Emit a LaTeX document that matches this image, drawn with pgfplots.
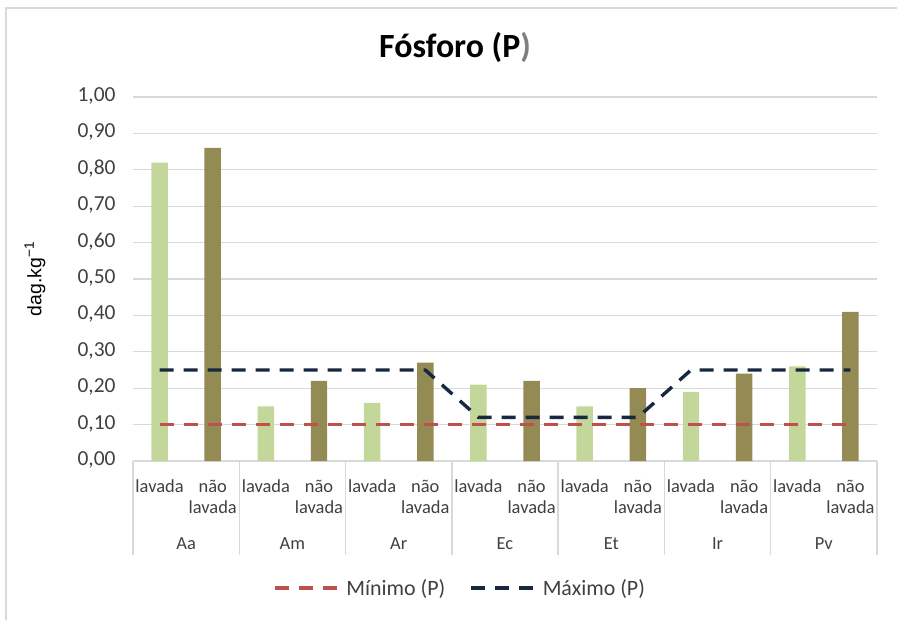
\documentclass[border=0pt]{standalone}
\usepackage{fontspec}
\setmainfont{Carlito}
\newfontfamily\arialfont{Liberation Sans}
\usepackage{pgfplots}
\pgfplotsset{compat=1.18}

\definecolor{lavada}{HTML}{C4D79B}
\definecolor{naolavada}{HTML}{948A54}
\definecolor{minred}{HTML}{C0504D}
\definecolor{maxnavy}{HTML}{17283F}
\definecolor{gridgray}{HTML}{D9D9D9}
\definecolor{txt}{HTML}{404040}

\begin{document}
\begin{tikzpicture}
\useasboundingbox (0,0) rectangle (897bp,-620bp);
% chart area frame
\draw[gridgray, line width=2bp] (6bp,-620bp) -- (6bp,-8bp) -- (897bp,-8bp);
\begin{axis}[
  at={(133bp,-461bp)}, anchor=south west,
  scale only axis, width=744bp, height=364bp,
  xmin=-0.5, xmax=13.5, ymin=0, ymax=1,
  clip=false,
  axis line style={draw=none},
  major tick length=0pt,
  /pgf/number format/assume math mode=true,
  ytick={0,0.1,0.2,0.3,0.4,0.5,0.6,0.7,0.8,0.9,1.0},
  ymajorgrids,
  grid style={gridgray, line width=1.3bp},
  yticklabel style={font=\fontsize{21.5}{23}\selectfont, color=txt,
    /pgf/number format/fixed, /pgf/number format/fixed zerofill,
    /pgf/number format/precision=2, /pgf/number format/use comma,
    xshift=-14bp},
  xtick={0,...,13},
  xticklabels={lavada,{não\\lavada},
               lavada,{não\\lavada},
               lavada,{não\\lavada},
               lavada,{não\\lavada},
               lavada,{não\\lavada},
               lavada,{não\\lavada},
               lavada,{não\\lavada}},
  xticklabel style={font=\fontsize{18.5}{21}\selectfont, color=txt,
    align=center, anchor=north, yshift=-13bp},
  typeset ticklabels with strut,
  title={Fósforo (P\textcolor{gray}{)}},
  title style={font=\bfseries\fontsize{34}{37}\selectfont,
    at={(axis description cs:0.4328,1)}, anchor=center, yshift=44bp},
  ylabel={\arialfont dag.kg\textsuperscript{−1}},
  ylabel style={font=\fontsize{19.5}{22}\selectfont, color=black,
    at={(axis description cs:-0.1317,0.5)}, anchor=center},
  legend style={at={(axis description cs:0.4395,-0.349)}, anchor=center,
    draw=none, fill=none, legend columns=2,
    font=\fontsize{22}{24}\selectfont, text=txt,
    /tikz/every odd column/.append style={column sep=6bp},
    /tikz/every even column/.append style={column sep=22bp}},
  legend image code/.code={\draw[#1] (0bp,0bp) -- (62bp,0bp);},
]
% washed leaves
\addplot[ybar, bar width=0.31, bar shift=0pt, fill=lavada, draw=none, forget plot]
  coordinates {(0,0.82) (2,0.15) (4,0.16) (6,0.21) (8,0.15) (10,0.19) (12,0.26)};
% unwashed leaves
\addplot[ybar, bar width=0.31, bar shift=0pt, fill=naolavada, draw=none, forget plot]
  coordinates {(1,0.86) (3,0.22) (5,0.27) (7,0.22) (9,0.20) (11,0.24) (13,0.41)};
% reference range
\addplot[minred, line width=3.4bp, dash pattern=on 14bp off 10bp, mark=none]
  coordinates {(0,0.10) (1,0.10) (2,0.10) (3,0.10) (4,0.10) (5,0.10) (6,0.10)
               (7,0.10) (8,0.10) (9,0.10) (10,0.10) (11,0.10) (12,0.10) (13,0.10)};
\addlegendentry{Mínimo (P)}
\addplot[maxnavy, line width=3.4bp, dash pattern=on 14bp off 10bp, mark=none]
  coordinates {(0,0.25) (1,0.25) (2,0.25) (3,0.25) (4,0.25) (5,0.25) (6,0.12)
               (7,0.12) (8,0.12) (9,0.12) (10,0.25) (11,0.25) (12,0.25) (13,0.25)};
\addlegendentry{Máximo (P)}
% category table dividers
\pgfplotsinvokeforeach{-0.5,1.5,3.5,5.5,7.5,9.5,11.5,13.5}{
  \draw[gridgray, line width=1.3bp] (axis cs:#1,0) -- ++(0pt,-94bp);
}
% species labels
\begin{scope}[every node/.style={font=\fontsize{18.5}{21}\selectfont, text=txt, yshift=-83bp}]
\node at (axis cs:0.5,0) {Aa};
\node at (axis cs:2.5,0) {Am};
\node at (axis cs:4.5,0) {Ar};
\node at (axis cs:6.5,0) {Ec};
\node at (axis cs:8.5,0) {Et};
\node at (axis cs:10.5,0) {Ir};
\node at (axis cs:12.5,0) {Pv};
\end{scope}
\end{axis}
\end{tikzpicture}
\end{document}
